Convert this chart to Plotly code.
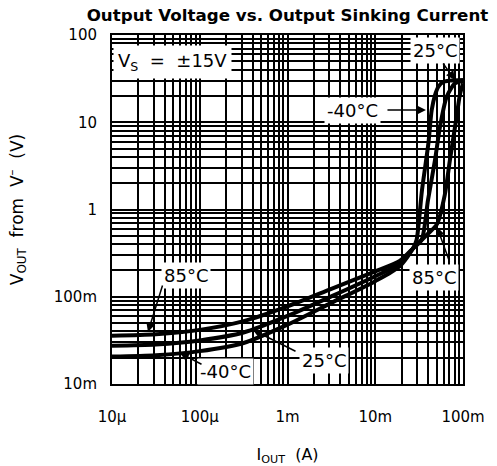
import plotly.graph_objects as go

# Output sinking current (A) and output voltage measured from V- (V)
i_85 = [1e-5, 3.16e-5, 1e-4, 3.16e-4, 1e-3, 3.16e-3, 1e-2, 1.9e-2, 2.7e-2,
        3.85e-2, 5.06e-2, 6.2e-2, 7.1e-2, 8.5e-2, 9.2e-2, 1e-1]
v_85 = [0.0358, 0.0372, 0.0417, 0.0525, 0.0776, 0.123, 0.195, 0.257, 0.359,
        0.51, 0.68, 1.47, 3.7, 12, 20.5, 28]

i_25 = [1e-5, 3.16e-5, 1e-4, 3.16e-4, 1e-3, 3.16e-3, 1e-2, 1.9e-2, 2.7e-2,
        3.38e-2, 3.99e-2, 4.8e-2, 5.47e-2, 6.52e-2, 8.1e-2, 1e-1]
v_25 = [0.0275, 0.0284, 0.0316, 0.0389, 0.0603, 0.101, 0.172, 0.240, 0.359,
        0.45, 1.28, 3.7, 8.9, 19.6, 27.9, 29.7]

i_m40 = [1e-5, 3.16e-5, 1e-4, 3.16e-4, 1e-3, 3.16e-3, 1e-2, 1.9e-2, 2.7e-2,
         2.96e-2, 3.41e-2, 4.03e-2, 4.4e-2, 4.8e-2, 5.24e-2, 5.9e-2, 7.1e-2, 1e-1]
v_m40 = [0.0206, 0.0214, 0.0238, 0.0295, 0.0479, 0.0851, 0.151, 0.224, 0.359,
         0.45, 1.67, 5.7, 13.8, 20.5, 25.5, 28.9, 30.0, 30.5]

x_tickvals = [1e-5, 1e-4, 1e-3, 1e-2, 1e-1]
x_ticktext = ["10μ", "100μ", "1m", "10m", "100m"]
y_tickvals = [1e-2, 1e-1, 1, 10, 100]
y_ticktext = ["10m", "100m", "1", "10", "100"]

x_minor = [k * 10.0 ** e for e in range(-5, -1) for k in range(2, 10)]
y_minor = [k * 10.0 ** e for e in range(-2, 2) for k in range(2, 10)]

fig = go.Figure()
for xs, ys in [(i_85, v_85), (i_25, v_25), (i_m40, v_m40)]:
    fig.add_trace(go.Scatter(
        x=xs, y=ys, mode="lines",
        line=dict(color="black", width=4, shape="spline", smoothing=0.7),
        showlegend=False, hoverinfo="skip",
    ))

FONT = "DejaVu Sans, Verdana, sans-serif"
label_font = dict(family=FONT, size=18, color="black")
tick_font = dict(family=FONT, size=15, color="black")
NB = "\u00a0"

# Text labels (positions in log10 axis units)
labels = [
    (f"V<sub>S</sub>{NB}{NB}={NB}{NB}±15V", -4.311, 1.685, 4),
    ("25°C", -1.319, 1.817, 2),
    ("-40°C", -2.265, 1.140, 2),
    ("85°C", -4.157, -0.751, 2),
    ("-40°C", -3.701, -1.862, 2),
    ("25°C", -2.584, -1.725, 2),
    ("85°C", -1.330, -0.785, 2),
]
for text, lx, ly, pad in labels:
    fig.add_annotation(
        x=lx, y=ly, xref="x", yref="y", text=text, showarrow=False,
        font=label_font, bgcolor="white", borderpad=pad,
        xanchor="center", yanchor="middle",
    )

# Pointer arrows: tip in log10 axis units, tail as pixel offset
arrows = [
    (-1.091, 1.484, -13, -18),
    (-1.422, 1.140, -40, 0),
    (-4.590, -1.404, 15, -48),
    (-4.225, -1.645, 23, 12),
    (-3.393, -1.381, 44, 22),
    (-1.296, -0.201, 13, 36),
]
for tx, ty, ax, ay in arrows:
    fig.add_annotation(
        x=tx, y=ty, xref="x", yref="y", text="", showarrow=True,
        ax=ax, ay=ay, arrowhead=2, arrowsize=1.2, arrowwidth=1.5,
        arrowcolor="black", standoff=0,
    )

fig.update_layout(
    width=497, height=466,
    margin=dict(l=112, r=34, t=35, b=82, autoexpand=False),
    paper_bgcolor="white", plot_bgcolor="white",
    title=dict(
        text="<b>Output Voltage vs. Output Sinking Current</b>",
        font=dict(family=FONT, size=16.7, color="black"),
        x=0.5, xref="paper", y=1 - 15 / 466, yref="container",
        xanchor="center", yanchor="middle",
    ),
)

fig.update_xaxes(
    type="log", range=[-5, -1], automargin=False,
    tickmode="array", tickvals=x_tickvals, ticktext=x_ticktext,
    tickfont=tick_font, ticks="", ticklabelstandoff=18,
    showgrid=True, gridcolor="black", gridwidth=1.5,
    minor=dict(tickvals=x_minor, showgrid=True, gridcolor="black", gridwidth=1.5),
    showline=True, linecolor="black", linewidth=2, mirror=True,
    zeroline=False,
    title=dict(text=f"I<sub>OUT</sub>{NB}{NB}(A)",
               font=dict(family=FONT, size=16, color="black"), standoff=28),
)
fig.update_yaxes(
    type="log", range=[-2, 2], automargin=False,
    tickmode="array", tickvals=y_tickvals, ticktext=y_ticktext,
    tickfont=tick_font, ticks="", ticklabelstandoff=10,
    showgrid=True, gridcolor="black", gridwidth=1.5,
    minor=dict(tickvals=y_minor, showgrid=True, gridcolor="black", gridwidth=1.5),
    showline=True, linecolor="black", linewidth=2, mirror=True,
    zeroline=False,
    title=dict(text=f"V<sub>OUT</sub>{NB}{NB}from{NB}{NB}V<sup>–</sup>{NB}{NB}(V)",
               font=dict(family=FONT, size=17, color="black"), standoff=26),
)

fig.write_html("out.html")
